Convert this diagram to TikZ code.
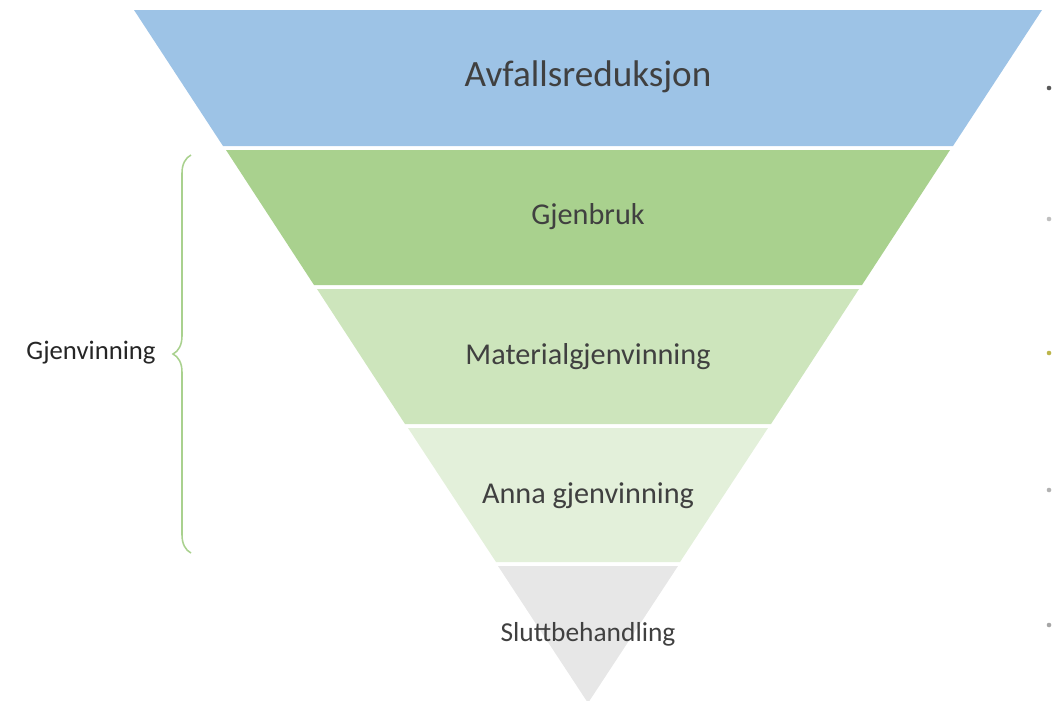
\documentclass[tikz,border=0pt]{standalone}
\usepackage{fontspec}
\setmainfont{Carlito}
\usepackage{xcolor}
\usetikzlibrary{decorations.pathreplacing}

\definecolor{lagblaa}{HTML}{9DC3E6}
\definecolor{laggronn}{HTML}{A9D18E}
\definecolor{laglys}{HTML}{CDE5BC}
\definecolor{lagblek}{HTML}{E3F0DA}
\definecolor{laggraa}{HTML}{E7E7E7}
\definecolor{tekstgraa}{HTML}{404040}

\tikzset{
  lag/.style={draw=none},
  lagtekst/.style={text=tekstgraa, inner sep=0pt},
  prikk/.style={fill=#1, draw=none}
}

\begin{document}
\begin{tikzpicture}[x=0.025cm, y=-0.025cm]
 \useasboundingbox (0,0) rectangle (1056,700);
 \clip (0,0) rectangle (1056,700);

 % hjørne for lagene
 \coordinate (a1) at (134,10);   \coordinate (b1) at (1042,10);
 \coordinate (a2) at (223,146);  \coordinate (b2) at (953,146);
 \coordinate (c2) at (226,150);  \coordinate (d2) at (950,150);
 \coordinate (a3) at (314,285);  \coordinate (b3) at (862,285);
 \coordinate (c3) at (317,289);  \coordinate (d3) at (859,289);
 \coordinate (a4) at (405,424);  \coordinate (b4) at (771,424);
 \coordinate (c4) at (408,428);  \coordinate (d4) at (768,428);
 \coordinate (a5) at (496,562);  \coordinate (b5) at (680,562);
 \coordinate (c5) at (498,566);  \coordinate (d5) at (678,566);
 \coordinate (o) at (588,703);

 \fill[lag, lagblaa] (a1)--(b1)--(b2)--(a2)--cycle;
 \fill[lag, laggronn] (c2)--(d2)--(b3)--(a3)--cycle;
 \fill[lag, laglys] (c3)--(d3)--(b4)--(a4)--cycle;
 \fill[lag, lagblek] (c4)--(d4)--(b5)--(a5)--cycle;
 \fill[lag, laggraa] (c5)--(d5)--(o)--cycle;

 \node [lagtekst, font=\fontsize{26.4}{30}\selectfont] (T1) at (588,77) {Avfallsreduksjon};
 \node [lagtekst, font=\fontsize{21.5}{25}\selectfont] (T2) at (588,217) {Gjenbruk};
 \node [lagtekst, font=\fontsize{21.5}{25}\selectfont] (T3) at (588,357) {Materialgjenvinning};
 \node [lagtekst, font=\fontsize{21.5}{25}\selectfont] (T4) at (588,496) {Anna gjenvinning};
 \node [lagtekst, font=\fontsize{19.5}{23}\selectfont] (T5) at (588,634) {Sluttbehandling};

 % klamme
 \coordinate (k1) at (191,553);
 \coordinate (k2) at (191,155);
 \draw[laggronn, line width=1.1pt, decorate, decoration={brace, amplitude=0.45cm}] (k1)--(k2);
 \node [text=black!85, inner sep=0pt, font=\fontsize{19}{22}\selectfont] (G) at (91,353) {Gjenvinning};

 \fill[prikk=black!65] (1049,88) circle (2.3);
 \fill[prikk=black!25] (1049,219) circle (2.3);
 \fill[prikk=olive!60] (1049,353) circle (2.3);
 \fill[prikk=black!30] (1049,490) circle (2.3);
 \fill[prikk=black!35] (1049,625) circle (2.3);

\end{tikzpicture}
\end{document}
